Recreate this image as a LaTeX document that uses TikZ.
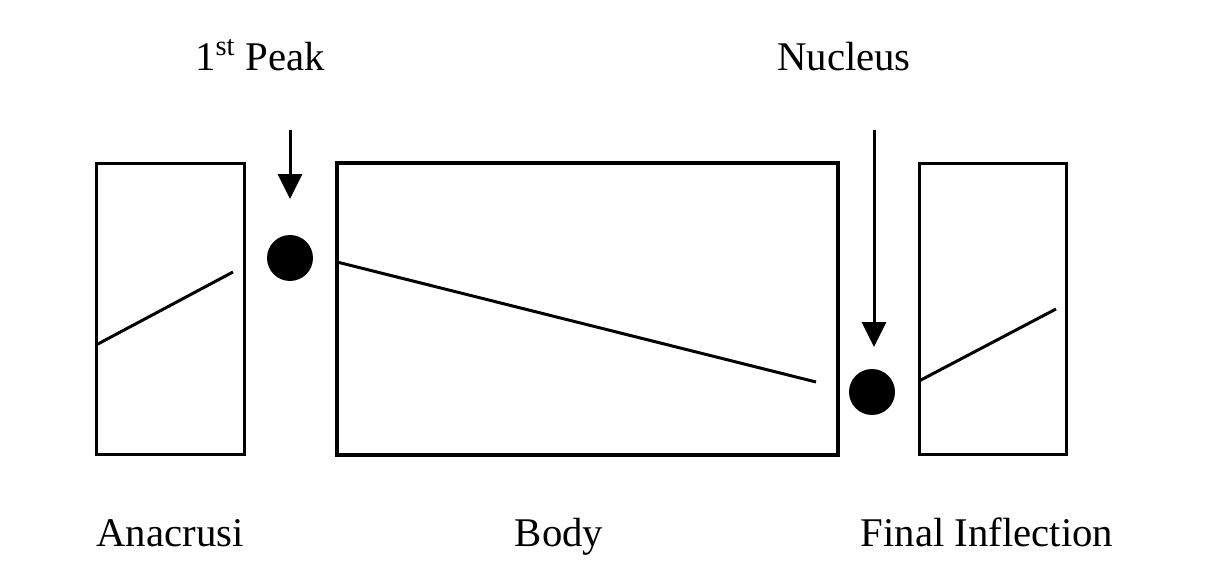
\documentclass[tikz,border=0pt]{standalone}
\usepackage{fontspec}
\setmainfont{Liberation Serif}
\usetikzlibrary{arrows.meta}
\begin{document}
\begin{tikzpicture}[x=0.02cm,y=-0.02cm,
  box/.style={draw, line width=0.06cm, inner sep=0pt, minimum height=5.84cm},
  dot/.style={circle, fill=black, inner sep=0pt, minimum size=0.92cm},
  lbl/.style={font=\fontsize{23.2}{27}\selectfont, inner sep=0pt, anchor=base},
  contour/.style={line width=0.06cm},
  pointer/.style={line width=0.06cm, -{Triangle[length=0.5cm, width=0.48cm]}}]
\useasboundingbox (0,0) rectangle (1211,587);
\node[box, minimum width=2.98cm] (ana) at (170.5,309) {};
\node[box, line width=0.08cm, minimum width=10.02cm] (body) at (587.5,309) {};
\node[box, minimum width=2.96cm] (fin) at (993,309) {};
\node[dot] (peakdot) at (290,258) {};
\node[dot] (nucdot) at (872,392) {};
\node[lbl] (peak) at (260,71) {1\textsuperscript{st} Peak};
\node[lbl] (nuc) at (844,71) {Nucleus};
\node[lbl] (analbl) at (170,546) {Anacrusi};
\node[lbl] (bodylbl) at (559,546) {Body};
\node[lbl] (finlbl) at (987,546) {Final Inflection};
\coordinate (p1) at (290,130);
\coordinate (p2) at (290,199);
\coordinate (n1) at (874,130);
\coordinate (n2) at (874,347);
\draw[pointer] (p1) -- (p2);
\draw[pointer] (n1) -- (n2);
\draw[contour] (96,345) -- (233,272);
\draw[contour] (337,262) -- (816,382);
\draw[contour] (919,381) -- (1056,309);
\end{tikzpicture}
\end{document}
